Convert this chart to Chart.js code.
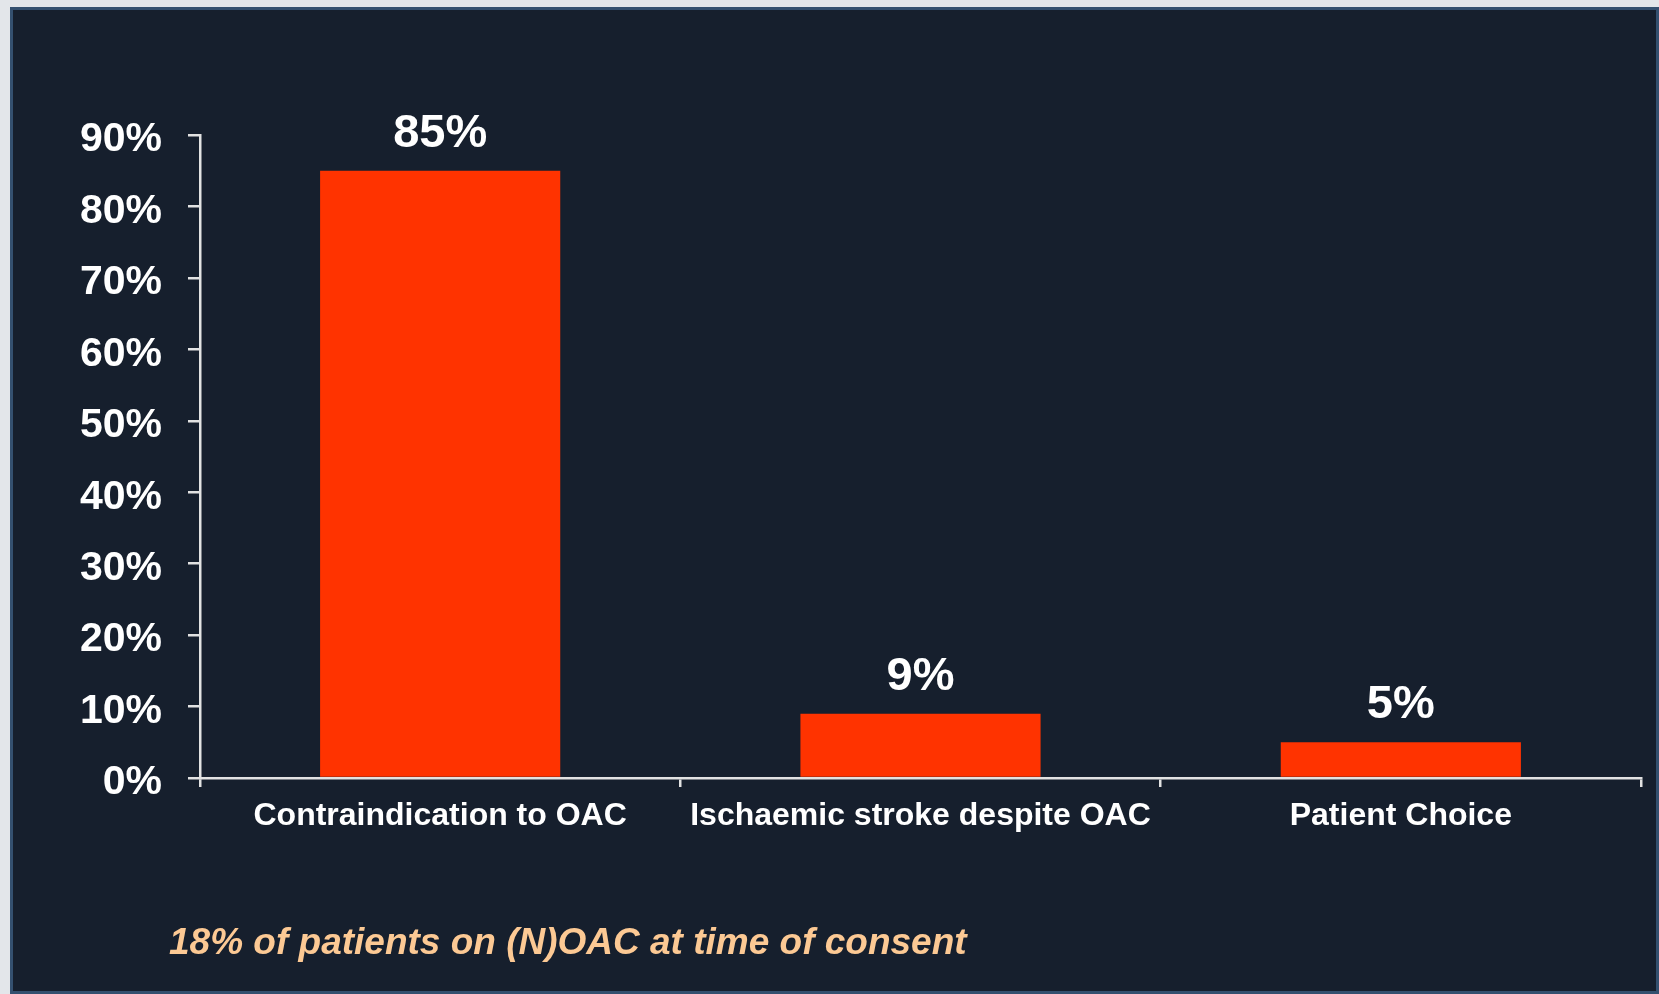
<!DOCTYPE html>
<html lang="en">
<head>
    <meta charset="UTF-8">
    <meta name="viewport" content="width=device-width, initial-scale=1.0">
    <script src="https://cdn.jsdelivr.net/npm/chart.js"></script>
    <style>
        body {
            margin: 0;
            width: 1659px;
            height: 994px;
            background: #e3e6ea;
            overflow: hidden;
            position: relative;
            font-family: "Liberation Sans", Arial, sans-serif;
        }
        #panel {
            position: absolute;
            left: 10px;
            top: 7px;
            width: 1649px;
            height: 987px;
            box-sizing: border-box;
            border: 3px solid #34506f;
            background: #161f2d;
        }
        #chartDiv {
            position: absolute;
            left: 0;
            top: 0;
        }
        #footnote {
            position: absolute;
            left: 169px;
            top: 921px;
            font-size: 37px;
            font-weight: bold;
            font-style: italic;
            color: #fcc994;
            white-space: nowrap;
        }
    </style>
    <title>Reasons for LAAO</title>
</head>
<body>
    <div id="panel"></div>
    <div id="chartDiv">
        <canvas id="reasonChart" width="1659" height="994"></canvas>
    </div>
    <div id="footnote">18% of patients on (N)OAC at time of consent</div>
</body>
<script>
    // categories and shares (%)
    var categories = ['Contraindication to OAC', 'Ischaemic stroke despite OAC', 'Patient Choice'];
    var shares = [85, 9, 5];
    var yMax = 90;
    var yStep = 10;

    var axisColor = '#e2e2e2';
    var barColor = '#ff3300';

    // value labels above each bar
    var barLabels = {
        id: 'barLabels',
        afterDatasetsDraw(chart) {
            let ctx = chart.ctx;
            let meta = chart.getDatasetMeta(0);
            ctx.save();
            ctx.font = 'bold 47px "Liberation Sans", Arial, sans-serif';
            ctx.fillStyle = '#ffffff';
            ctx.textAlign = 'center';
            ctx.textBaseline = 'alphabetic';
            meta.data.forEach((bar, i) => {
                ctx.fillText(shares[i] + '%', bar.x, bar.y - 24);
            });
            ctx.restore();
        }
    };

    const ctx = document.getElementById('reasonChart');

    var chart = new Chart(ctx, {
        type: 'bar',
        data: {
            labels: categories,
            datasets: [
                {
                    data: shares,
                    backgroundColor: barColor,
                    borderWidth: 0,
                    barPercentage: 0.5,
                    categoryPercentage: 1.0
                }
            ]
        },
        options: {
            responsive: false,
            animation: false,
            layout: {
                padding: { top: 135, right: 18, bottom: 0, left: 0 }
            },
            plugins: {
                legend: { display: false },
                tooltip: { enabled: false }
            },
            scales: {
                x: {
                    afterFit: (s) => { s.height = 216; },
                    border: { display: true, color: axisColor, width: 2.5 },
                    grid: {
                        display: true,
                        drawOnChartArea: false,
                        drawTicks: true,
                        tickLength: 9,
                        color: axisColor,
                        lineWidth: 2.5
                    },
                    ticks: {
                        color: '#ffffff',
                        padding: 10,
                        maxRotation: 0,
                        font: { family: '"Liberation Sans", Arial, sans-serif', size: 32, weight: 'bold' }
                    }
                },
                y: {
                    min: 0,
                    max: yMax,
                    afterFit: (s) => { s.width = 200; },
                    border: { display: true, color: axisColor, width: 2.5 },
                    grid: {
                        display: true,
                        drawOnChartArea: false,
                        drawTicks: true,
                        tickLength: 12,
                        color: axisColor,
                        lineWidth: 2.5
                    },
                    ticks: {
                        stepSize: yStep,
                        color: '#ffffff',
                        padding: 26,
                        labelOffset: 5,
                        font: { family: '"Liberation Sans", Arial, sans-serif', size: 41, weight: 'bold' },
                        callback: (v) => v + '%'
                    }
                }
            }
        },
        plugins: [barLabels]
    });
</script>
</html>
